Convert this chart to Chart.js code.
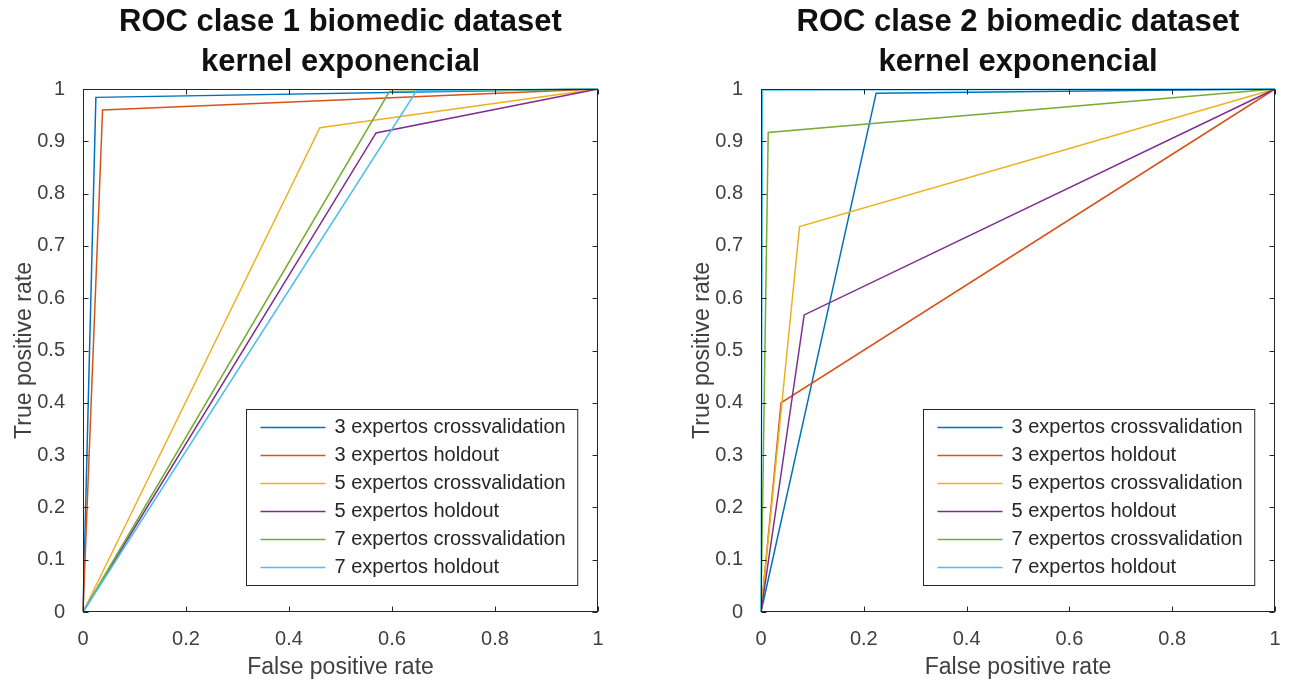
<!DOCTYPE html>
<html>
<head>
<meta charset="utf-8">
<title>ROC biomedic dataset - kernel exponencial</title>
<script src="https://cdn.jsdelivr.net/npm/chart.js@4.4.1/dist/chart.umd.min.js"></script>
<style>
  html, body { margin: 0; padding: 0; background: #fff; }
  body { width: 1289px; height: 686px; position: relative; overflow: hidden; }
  canvas { position: absolute; top: 0; }
  #rocClase1 { left: 0; }
  #rocClase2 { left: 678px; }
</style>
</head>
<body>
<canvas id="rocClase1" width="640" height="686"></canvas>
<canvas id="rocClase2" width="611" height="686"></canvas>
<script>
// legend entries, same for both panels
const seriesLabels = [
  '3 expertos crossvalidation',
  '3 expertos holdout',
  '5 expertos crossvalidation',
  '5 expertos holdout',
  '7 expertos crossvalidation',
  '7 expertos holdout'
];
const seriesColors = ['#0072BD', '#D95319', '#EDB120', '#7E2F8E', '#77AC30', '#4DBEEE'];

// every ROC goes (0,0) -> operating point -> (1,1)
const rocStart = [0, 0];
const rocEnd = [1, 1];

// operating point of each classifier, clase 1
const clase1Fpr = [0.025, 0.038, 0.460, 0.569, 0.595, 0.648];
const clase1Tpr = [0.984, 0.960, 0.926, 0.916, 0.995, 0.997];

// operating point of each classifier, clase 2
const clase2Fpr = [0.224, 0.039, 0.075, 0.084, 0.014, 0.003];
const clase2Tpr = [0.992, 0.400, 0.737, 0.568, 0.917, 0.998];

const xTicks = [0, 0.2, 0.4, 0.6, 0.8, 1];
const yTicks = [0, 0.1, 0.2, 0.3, 0.4, 0.5, 0.6, 0.7, 0.8, 0.9, 1];

const FONT = 'Arial, "Liberation Sans", Helvetica, sans-serif';
const AXIS_COLOR = '#262626';
const LABEL_COLOR = '#404040';
const TICK_LEN = 5;

function buildDatasets(fpr, tpr) {
  return seriesLabels.map((label, i) => ({
    label,
    data: [
      { x: rocStart[0], y: rocStart[1] },
      { x: fpr[i], y: tpr[i] },
      { x: rocEnd[0], y: rocEnd[1] }
    ],
    borderColor: seriesColors[i],
    backgroundColor: seriesColors[i],
    borderWidth: 1.5,
    pointRadius: 0,
    tension: 0,
    fill: false,
    clip: false,
    order: seriesLabels.length - i
  }));
}

// matlab style box with inward ticks on all four sides
const matlabBox = {
  id: 'matlabBox',
  afterDatasetsDraw(chart) {
    const { ctx, chartArea: a, scales: { x, y } } = chart;
    const l = Math.round(a.left) + 0.5, r = Math.round(a.right) - 0.5;
    const t = Math.round(a.top) + 0.5, b = Math.round(a.bottom) - 0.5;
    ctx.save();
    ctx.strokeStyle = AXIS_COLOR;
    ctx.lineWidth = 1;
    ctx.beginPath();
    xTicks.forEach(v => {
      const px = Math.round(x.getPixelForValue(v)) + 0.5;
      ctx.moveTo(px, b); ctx.lineTo(px, b - TICK_LEN);
      ctx.moveTo(px, t); ctx.lineTo(px, t + TICK_LEN);
    });
    yTicks.forEach(v => {
      const py = Math.round(y.getPixelForValue(v)) + 0.5;
      ctx.moveTo(l, py); ctx.lineTo(l + TICK_LEN, py);
      ctx.moveTo(r, py); ctx.lineTo(r - TICK_LEN, py);
    });
    ctx.stroke();
    ctx.strokeRect(l, t, r - l, b - t);
    ctx.restore();
  }
};

// legend box in the lower right corner of the axes
const cornerLegend = {
  id: 'cornerLegend',
  afterDraw(chart) {
    const { ctx, chartArea: a } = chart;
    const sets = chart.data.datasets;
    const rowH = 28, padY = 4, lineLen = 65, padL = 14, gap = 9, padR = 12;
    ctx.save();
    ctx.font = '20px ' + FONT;
    const textW = Math.max(...sets.map(d => ctx.measureText(d.label).width));
    const w = padL + lineLen + gap + textW + padR;
    const h = sets.length * rowH + padY * 2;
    const left = Math.round(a.right - 21 - w) + 0.5;
    const top = Math.round(a.bottom - 27 - h) + 0.5;
    ctx.fillStyle = '#fff';
    ctx.fillRect(left, top, w, h);
    ctx.strokeStyle = AXIS_COLOR;
    ctx.lineWidth = 1;
    ctx.strokeRect(left, top, w, h);
    ctx.textBaseline = 'middle';
    sets.forEach((d, i) => {
      const cy = top + padY + rowH * i + rowH / 2;
      ctx.strokeStyle = d.borderColor;
      ctx.lineWidth = 1.5;
      ctx.beginPath();
      ctx.moveTo(left + padL, cy);
      ctx.lineTo(left + padL + lineLen, cy);
      ctx.stroke();
      ctx.fillStyle = AXIS_COLOR;
      ctx.fillText(d.label, left + padL + lineLen + gap, cy);
    });
    ctx.restore();
  }
};

function makeRoc(canvasId, titleLines, fpr, tpr, rightPad) {
  return new Chart(document.getElementById(canvasId), {
    type: 'line',
    data: { datasets: buildDatasets(fpr, tpr) },
    plugins: [matlabBox, cornerLegend],
    options: {
      responsive: false,
      animation: false,
      devicePixelRatio: 1,
      layout: { padding: { left: 0, right: rightPad, top: 0, bottom: 0 } },
      plugins: {
        legend: { display: false },
        tooltip: { enabled: false },
        title: {
          display: true,
          fullSize: false,
          text: titleLines,
          color: '#111',
          font: { family: FONT, size: 31, weight: 'bold', lineHeight: '40px' },
          padding: { top: 2, bottom: 7 }
        }
      },
      scales: {
        x: {
          type: 'linear',
          min: 0,
          max: 1,
          grid: { display: false },
          border: { display: false },
          afterBuildTicks: s => { s.ticks = xTicks.map(v => ({ value: v })); },
          afterFit: s => { s.height = 74; },
          ticks: {
            color: LABEL_COLOR,
            padding: 7,
            maxRotation: 0,
            font: { family: FONT, size: 20 },
            callback: v => String(+v.toFixed(1))
          },
          title: {
            display: true,
            text: 'False positive rate',
            color: LABEL_COLOR,
            font: { family: FONT, size: 23 },
            padding: { top: 0, bottom: 5 }
          }
        },
        y: {
          type: 'linear',
          min: 0,
          max: 1,
          grid: { display: false },
          border: { display: false },
          afterBuildTicks: s => { s.ticks = yTicks.map(v => ({ value: v })); },
          afterFit: s => { s.width = 83; },
          ticks: {
            color: LABEL_COLOR,
            padding: 10,
            font: { family: FONT, size: 20 },
            callback: v => String(+v.toFixed(1))
          },
          title: {
            display: true,
            text: 'True positive rate',
            color: LABEL_COLOR,
            font: { family: FONT, size: 23 },
            padding: { top: 11, bottom: 0 }
          }
        }
      }
    }
  });
}

makeRoc('rocClase1', ['ROC clase 1 biomedic dataset', 'kernel exponencial'], clase1Fpr, clase1Tpr, 42);
makeRoc('rocClase2', ['ROC clase 2 biomedic dataset', 'kernel exponencial'], clase2Fpr, clase2Tpr, 14);
</script>
</body>
</html>
